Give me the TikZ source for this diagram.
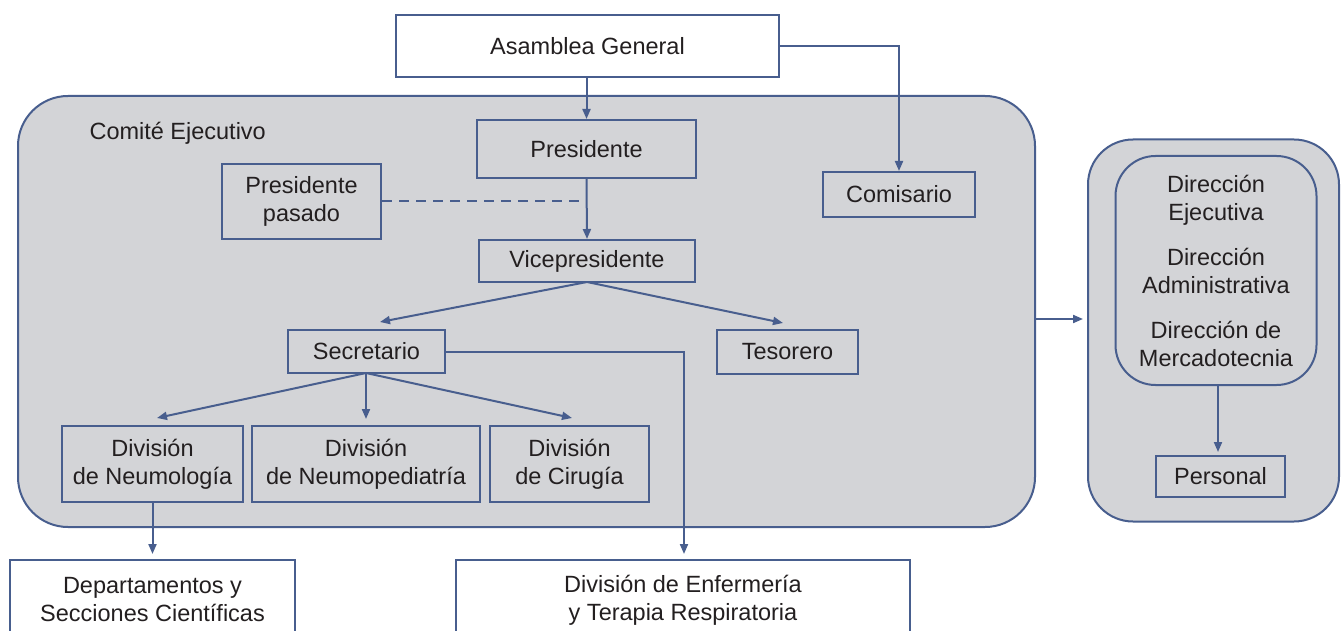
\documentclass[tikz,border=0pt]{standalone}
\usepackage{fontspec}
\setmainfont{Liberation Sans}
\usetikzlibrary{arrows.meta}
\definecolor{bc}{RGB}{72,94,142}
\definecolor{bg}{RGB}{211,212,215}
\definecolor{tx}{RGB}{35,31,32}
\begin{document}
\begin{tikzpicture}[x=1pt,y=-1pt,
  font=\fontsize{23.5}{28}\selectfont, text=tx,
  box/.style={draw=bc, line width=2pt, inner sep=0pt, align=center},
  wbox/.style={box, fill=white},
  arr/.style={draw=bc, line width=2pt, -{Triangle[length=10pt,width=8pt]}},
  ln/.style={draw=bc, line width=2pt}]
\clip (0,0) rectangle (1341,631);
\fill[white] (0,0) rectangle (1341,631);
% containers
\node[box, fill=bg, rounded corners=50pt, minimum width=1017pt, minimum height=431pt] (ce) at (526.5,311.5) {};
\node[anchor=west] (cet) at (86,133) {Comité Ejecutivo};
\node[box, fill=bg, rounded corners=45pt, minimum width=251pt, minimum height=382pt] (rc) at (1213.5,330.5) {};
\node[box, fill=bg, rounded corners=40pt, minimum width=201pt, minimum height=229pt] (dir) at (1216,270.5)
  {Dirección\\Ejecutiva\\[17pt]Dirección\\Administrativa\\[17pt]Dirección de\\Mercadotecnia};
\node[box, minimum width=129pt, minimum height=41pt] (per) at (1220.5,476.5) {Personal};
% boxes
\node[wbox, minimum width=383pt, minimum height=62pt] (ag) at (587.5,46) {Asamblea General};
\node[box, minimum width=219pt, minimum height=58pt] (pres) at (586.5,149) {Presidente};
\node[box, minimum width=159pt, minimum height=75pt] (pp) at (301.5,201.5) {Presidente\\pasado};
\node[box, minimum width=216pt, minimum height=42pt] (vp) at (587,261) {Vicepresidente};
\node[box, minimum width=152pt, minimum height=45pt] (com) at (899,194.5) {Comisario};
\node[box, minimum width=157pt, minimum height=43pt] (sec) at (366.5,351.5) {Secretario};
\node[box, minimum width=141pt, minimum height=44pt] (tes) at (787.5,352) {Tesorero};
\node[box, minimum width=181pt, minimum height=76pt] (dn) at (152.5,464) {División\\de Neumología};
\node[box, minimum width=228pt, minimum height=76pt] (dnp) at (366,464) {División\\de Neumopediatría};
\node[box, minimum width=159pt, minimum height=76pt] (dc) at (569.5,464) {División\\de Cirugía};
\node[wbox, minimum width=285pt, minimum height=80pt] (dep) at (152.5,600) {Departamentos y\\Secciones Científicas};
\node[wbox, minimum width=454pt, minimum height=80pt] (enf) at (683,600) {División de Enfermería\\y Terapia Respiratoria};
% free ends
\coordinate (t1) at (380,322);
\coordinate (t2) at (783,323);
\coordinate (t3) at (157,418);
\coordinate (t4) at (366,419);
\coordinate (t5) at (572,418);
\coordinate (t6) at (684,554);
\coordinate (t7) at (152.5,554);
\coordinate (t8) at (1083,319);
\coordinate (t9) at (1218,452);
\coordinate (vc) at (587,282);
\coordinate (sc) at (366,373);
% connectors
\draw[arr] (pres.north |- ag.south) -- (pres.north);
\draw[arr] (ag.east) -| (com.north);
\draw[arr] (pres.south) -- (vp.north);
\draw[ln, dash pattern=on 10pt off 7pt] (pp.east) -- (pp.east -| pres.south);
\draw[arr] (vc) -- (t1);
\draw[arr] (vc) -- (t2);
\draw[arr] (sc) -- (t3);
\draw[arr] (sc) -- (t4);
\draw[arr] (sc) -- (t5);
\draw[arr] (sec.east) -| (t6);
\draw[arr] (dn.south) -- (t7);
\draw[arr] (t8 -| ce.east) -- (t8);
\draw[arr] (t9 |- dir.south) -- (t9);
\end{tikzpicture}
\end{document}
